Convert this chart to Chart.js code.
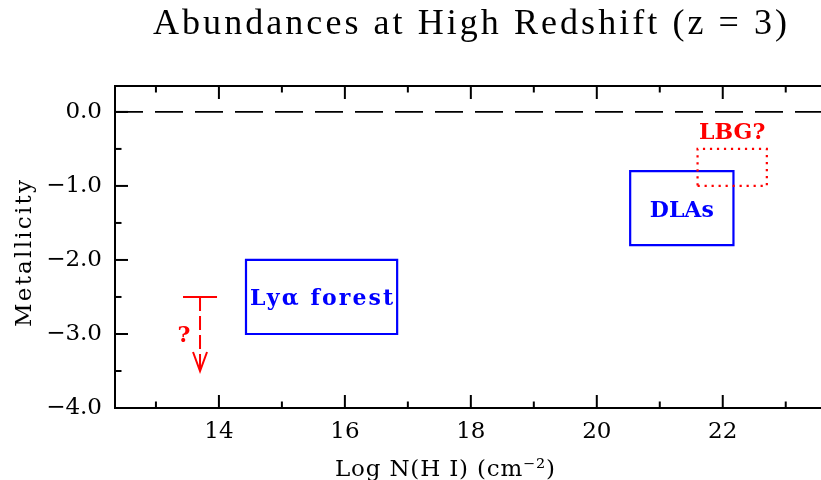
<!DOCTYPE html>
<html><head><meta charset="utf-8">
<script src="https://cdn.jsdelivr.net/npm/chart.js@4/dist/chart.umd.min.js"></script>
<style>html,body{margin:0;padding:0;background:#fff;overflow:hidden}</style>
</head><body>
<canvas id="c" width="821" height="480"></canvas>
<script>
// ---- data ----
const xRange = [12.35, 23.56];
const yRange = [-4.0, 0.35];
const xMajorTicks = [14, 16, 18, 20, 22];
const xMinorTicks = [13, 15, 17, 19, 21, 23];
const yMajorTicks = [0, -1, -2, -3, -4];
const yMinorTicks = [-0.5, -1.5, -2.5, -3.5];
const solarLevel = 0.0;
const lyaForestX = [14.43, 16.83];
const lyaForestY = [-3.0, -2.0];
const dlaX = [20.53, 22.17];
const dlaY = [-1.8, -0.8];
const lbgX = [21.6, 22.7];
const lbgY = [-1.0, -0.5];
const limitBarX = [13.43, 13.97];
const limitY = -2.5;
const limitArrowX = 13.70;
const limitArrowTipY = -3.5;

const titleText = 'Abundances at High Redshift (z = 3)';
const xTitle = 'Log N(H I) (cm\u207B\u00B2)';
const yTitle = 'Metallicity';

// ---- helpers ----
const BLUE = '#0000ff', RED = '#ff0000';
function rect(xs, ys) {
  return [{x:xs[0],y:ys[0]},{x:xs[1],y:ys[0]},{x:xs[1],y:ys[1]},{x:xs[0],y:ys[1]},{x:xs[0],y:ys[0]}];
}
function fmtY(v){ const s = Math.abs(v).toFixed(1); return v < -1e-9 ? '\u2212' + s : s; }

function drawFitted(ctx, text, font, color, cx, baseY, targetW) {
  ctx.save();
  ctx.font = font; ctx.fillStyle = color;
  ctx.letterSpacing = '0px';
  const w = ctx.measureText(text).width;
  const n = [...text].length;
  const ls = targetW ? (targetW - w) / (n - 1) : 0;
  ctx.letterSpacing = ls + 'px';
  ctx.textAlign = 'left'; ctx.textBaseline = 'alphabetic';
  const W = targetW || w;
  ctx.fillText(text, cx - W / 2, baseY);
  ctx.restore();
}

const framePlugin = {
  id: 'frame',
  afterDatasetsDraw(chart) {
    const ctx = chart.ctx, a = chart.chartArea;
    const xs = chart.scales.x, ys = chart.scales.y;
    ctx.save();
    ctx.strokeStyle = '#000'; ctx.lineWidth = 2; ctx.lineCap = 'butt';
    // top border
    ctx.beginPath(); ctx.moveTo(a.left, a.top); ctx.lineTo(a.right, a.top); ctx.stroke();
    // x ticks (bottom and top, pointing inward)
    const tk = (list, len) => list.forEach(v => {
      const px = xs.getPixelForValue(v);
      if (px < a.left || px > a.right) return;
      ctx.beginPath(); ctx.moveTo(px, a.bottom); ctx.lineTo(px, a.bottom - len); ctx.stroke();
      ctx.beginPath(); ctx.moveTo(px, a.top); ctx.lineTo(px, a.top + len); ctx.stroke();
    });
    tk(xMajorTicks, 13); tk(xMinorTicks, 6.5);
    const tky = (list, len) => list.forEach(v => {
      const py = ys.getPixelForValue(v);
      ctx.beginPath(); ctx.moveTo(a.left, py); ctx.lineTo(a.left + len, py); ctx.stroke();
    });
    tky(yMajorTicks, 13); tky(yMinorTicks, 6.5);

    // arrow head of the upper limit
    const tx = xs.getPixelForValue(limitArrowX), ty = ys.getPixelForValue(limitArrowTipY);
    ctx.strokeStyle = RED; ctx.lineWidth = 2;
    ctx.beginPath(); ctx.moveTo(tx - 7, ty - 19); ctx.lineTo(tx, ty); ctx.lineTo(tx + 7, ty - 19); ctx.stroke();
    ctx.restore();

    // box labels
    const bold = "bold 22px 'DejaVu Serif'";
    const cxOf = r => xs.getPixelForValue((r[0] + r[1]) / 2);
    const cyOf = r => ys.getPixelForValue((r[0] + r[1]) / 2);
    drawFitted(ctx, 'Ly\u03B1 forest', bold, BLUE, cxOf(lyaForestX), cyOf(lyaForestY) + 8, 143);
    drawFitted(ctx, 'DLAs', bold, BLUE, cxOf(dlaX), cyOf(dlaY) + 9, 0);
    drawFitted(ctx, 'LBG?', bold, RED, cxOf(lbgX), ys.getPixelForValue(lbgY[1]) - 10, 0);
    drawFitted(ctx, '?', "bold 22px 'DejaVu Serif'", RED, tx - 16, ys.getPixelForValue((limitY + limitArrowTipY) / 2) + 8, 0);

    // title and axis titles
    drawFitted(ctx, titleText, "36px 'Liberation Serif'", '#000', 470, 34, 634);
    drawFitted(ctx, xTitle, "23px 'DejaVu Serif'", '#000', 445, 476, 220);
    ctx.save();
    ctx.translate(31, 253.5); ctx.rotate(-Math.PI / 2);
    drawFitted(ctx, yTitle, "23px 'DejaVu Serif'", '#000', 0, 0, 147);
    ctx.restore();
  }
};

const tickFont = { family: "'DejaVu Serif'", size: 23 };

new Chart(document.getElementById('c').getContext('2d'), {
  type: 'line',
  data: {
    datasets: [
      { data: [{x:xRange[0], y:solarLevel}, {x:xRange[1], y:solarLevel}], borderColor:'#000', borderWidth:1.6, borderDash:[28,12] },
      { data: rect(lbgX, lbgY), borderColor: RED, borderWidth: 2.2, borderDash:[2.2,4.8] },
      { data: rect(lyaForestX, lyaForestY), borderColor: BLUE, borderWidth: 2.2, borderCapStyle:'square' },
      { data: rect(dlaX, dlaY), borderColor: BLUE, borderWidth: 2.2, borderCapStyle:'square' },
      { data: [{x:limitBarX[0], y:limitY}, {x:limitBarX[1], y:limitY}], borderColor: RED, borderWidth: 2 },
      { data: [{x:limitArrowX, y:limitY}, {x:limitArrowX, y:limitArrowTipY}], borderColor: RED, borderWidth: 2, borderDash:[14,5] }
    ]
  },
  options: {
    responsive: false, animation: false,
    layout: { padding: { top: 86, right: 0, left: 0, bottom: 0 } },
    elements: { point: { radius: 0, hoverRadius: 0 }, line: { tension: 0, fill: false } },
    plugins: { legend: { display: false }, tooltip: { enabled: false }, title: { display: false } },
    events: [],
    scales: {
      x: {
        type: 'linear', min: xRange[0], max: xRange[1],
        afterBuildTicks: s => { s.ticks = xMajorTicks.map(v => ({ value: v })); },
        afterFit: s => { s.height = 72; },
        grid: { display: true, drawOnChartArea: false, drawTicks: false },
        border: { display: true, color: '#000', width: 2 },
        ticks: { padding: 10, font: tickFont, color: '#000', autoSkip: false, maxRotation: 0, callback: v => String(v) }
      },
      y: {
        type: 'linear', min: yRange[0], max: yRange[1],
        afterBuildTicks: s => { s.ticks = yMajorTicks.map(v => ({ value: v })); },
        afterFit: s => { s.width = 115; },
        grid: { display: true, drawOnChartArea: false, drawTicks: false },
        border: { display: true, color: '#000', width: 2 },
        ticks: { padding: 13, font: tickFont, color: '#000', autoSkip: false, callback: v => fmtY(v) }
      }
    }
  },
  plugins: [framePlugin]
});
</script>
</body></html>
